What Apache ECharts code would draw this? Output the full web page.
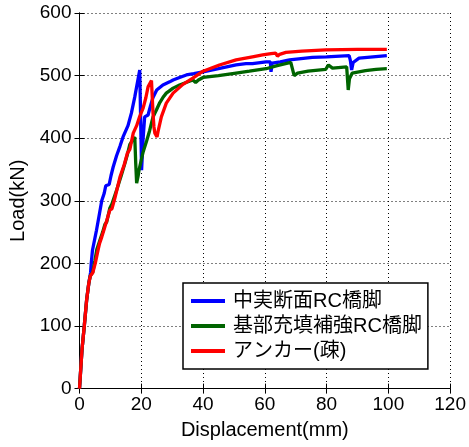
<!DOCTYPE html>
<html>
<head>
<meta charset="utf-8">
<script src="https://cdn.jsdelivr.net/npm/echarts@6/dist/echarts.min.js"></script>
<style>
  html, body { margin: 0; padding: 0; background: #fff; }
  #chart { width: 469px; height: 447px; }
</style>
</head>
<body>
<div id="chart"></div>
<script>
// Load–displacement curves of three pier specimens
const seriesNames = ['中実断面RC橋脚', '基部充填補強RC橋脚', 'アンカー(疎)'];
const seriesColors = ['#0000ff', '#006400', '#ff0000'];

const solidDisp = [0, 0.8, 1.55, 2.3, 3, 3.6, 3.8, 4.2, 5.5, 6.3, 7.2, 8, 8.5, 9.6, 10.2, 10.9, 12, 13.1, 14.1, 15.7, 16.8, 17.9, 19.5, 19.8, 20.1, 20.6, 21.1, 22.2, 23, 23.8, 25, 27, 29.2, 30.3, 32.4, 34.6, 37, 40, 45, 50.7, 53.9, 56, 60.4, 61.8, 62, 62.4, 65, 68, 75.4, 80, 87.3, 87.7, 88.1, 88.6, 90.5, 95, 99.5];
const solidLoad = [0, 62, 100, 141, 168, 186, 200, 221, 253, 275, 300, 312, 324, 326, 340, 354, 372, 387, 402, 420, 440, 466, 509, 430, 349, 400, 434, 437, 452, 465, 477, 485, 490, 493, 497, 501, 503, 506, 511, 517, 519, 519, 522, 522, 506, 520, 522, 525, 529, 530, 532, 524, 509, 521, 528, 530, 532];

const filledDisp = [0, 0.8, 1.55, 2.3, 3, 3.5, 4.3, 5, 5.6, 6.6, 7.5, 8.2, 8.8, 9.8, 10.5, 12, 13.5, 14.7, 15.5, 16.3, 17.9, 18.2, 18.5, 19, 19.3, 20.6, 21.7, 22.7, 23.8, 24.9, 26, 27, 28.1, 30.3, 32.4, 34.5, 36.7, 37.6, 38.5, 40, 45, 50.7, 55, 60.4, 64, 68.4, 69.5, 70.6, 74, 79.7, 80.6, 81.9, 86.5, 87, 87.4, 88.3, 92.6, 96, 99.5];
const filledLoad = [0, 62, 100, 141, 168, 180, 186, 205, 222, 237, 250, 262, 266, 288, 295, 317, 340, 360, 374, 390, 402, 360, 328, 340, 350, 378, 395, 412, 434, 445, 457, 465, 472, 480, 485, 489, 493, 489, 493, 497, 500, 504, 507, 511, 516, 521, 500, 504, 507, 510, 517, 512, 514, 477, 495, 504, 508, 510, 511];

const anchorDisp = [0, 0.8, 1.55, 2.3, 3, 3.5, 4.3, 5.1, 6, 6.5, 7.2, 8, 8.8, 9.8, 10.5, 11.5, 13.1, 14.5, 15.5, 16.3, 17.4, 18.5, 19.5, 20.6, 21.5, 22.2, 23.3, 23.8, 24.1, 24.4, 25.1, 25.4, 26.5, 28.1, 30.3, 33.5, 36.7, 40, 45.3, 50.7, 56, 59.3, 62, 63.5, 64.1, 64.8, 66.8, 72, 79.7, 90, 99.5];
const anchorLoad = [0, 62, 100, 141, 168, 180, 185, 200, 221, 232, 242, 255, 268, 285, 287, 305, 338, 358, 376, 382, 408, 420, 435, 448, 465, 482, 492, 440, 418, 408, 402, 410, 434, 456, 472, 486, 496, 507, 517, 525, 530, 533, 535, 536, 531, 534, 537, 539, 541, 542, 542];

const xTicks = { min: 0, max: 120, interval: 20 };
const yTicks = { min: 0, max: 600, interval: 100 };

function pairs(xs, ys) {
  return xs.map((x, i) => [x, ys[i]]);
}

const fontLatin = '"Liberation Sans", Arial, "Noto Sans CJK JP", sans-serif';
const dotted = { color: '#000', width: 1, type: [1, 3] };

const chart = echarts.init(document.getElementById('chart'), null, { renderer: 'canvas' });

const baseAxis = {
  type: 'value',
  axisLine: { show: true, lineStyle: { color: '#000', width: 1 } },
  axisTick: { show: true, inside: true, length: 5, lineStyle: { color: '#000' } },
  axisLabel: { color: '#000', fontSize: 19, fontFamily: fontLatin },
  splitLine: { show: true, lineStyle: dotted }
};

chart.setOption({
  animation: false,
  backgroundColor: '#fff',
  grid: { left: 79.5, right: 17.3, top: 13, bottom: 58.4, show: false },
  xAxis: [
    Object.assign({}, baseAxis, {
      min: xTicks.min, max: xTicks.max, interval: xTicks.interval,
      position: 'bottom',
      name: 'Displacement(mm)', nameLocation: 'middle', nameGap: 32,
      nameTextStyle: { color: '#000', fontSize: 20, fontFamily: fontLatin },
      axisLabel: Object.assign({}, baseAxis.axisLabel, { margin: 7 })
    }),
    Object.assign({}, baseAxis, {
      min: xTicks.min, max: xTicks.max, interval: xTicks.interval,
      position: 'top',
      axisLabel: { show: false },
      splitLine: { show: false }
    })
  ],
  yAxis: [
    Object.assign({}, baseAxis, {
      min: yTicks.min, max: yTicks.max, interval: yTicks.interval,
      position: 'left',
      name: 'Load(kN)', nameLocation: 'middle', nameGap: 51,
      nameTextStyle: { color: '#000', fontSize: 20, fontFamily: fontLatin },
      axisLabel: Object.assign({}, baseAxis.axisLabel, { margin: 8 })
    }),
    Object.assign({}, baseAxis, {
      min: yTicks.min, max: yTicks.max, interval: yTicks.interval,
      position: 'right',
      axisLabel: { show: false },
      splitLine: { show: false }
    })
  ],
  legend: {
    left: 183, top: 283,
    orient: 'vertical',
    backgroundColor: '#fff',
    borderColor: '#000', borderWidth: 1.5,
    padding: [8, 6, 8, 8],
    itemGap: 5,
    itemWidth: 34, itemHeight: 4,
    icon: 'rect',
    textStyle: { color: '#000', fontSize: 20, fontFamily: fontLatin, padding: [0, 0, 0, 3] },
    data: seriesNames
  },
  series: [
    { name: seriesNames[0], data: pairs(solidDisp, solidLoad) },
    { name: seriesNames[1], data: pairs(filledDisp, filledLoad) },
    { name: seriesNames[2], data: pairs(anchorDisp, anchorLoad) }
  ].map((s, i) => Object.assign({
    type: 'line',
    xAxisIndex: 0, yAxisIndex: 0,
    showSymbol: false,
    symbol: 'none',
    color: seriesColors[i],
    lineStyle: { color: seriesColors[i], width: 3.3 },
    z: 2 + i
  }, s))
});
</script>
</body>
</html>
